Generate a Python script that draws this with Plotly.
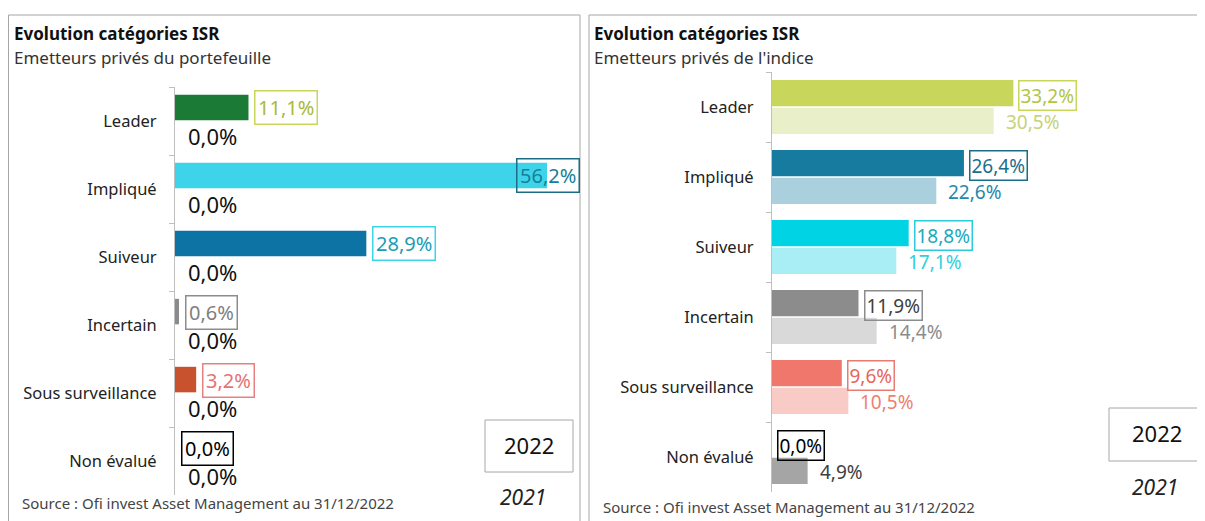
import plotly.graph_objects as go

# ---------------- data ----------------
categories = ["Leader", "Impliqué", "Suiveur", "Incertain", "Sous surveillance", "Non évalué"]
ptf_2022 = [11.1, 56.2, 28.9, 0.6, 3.2, 0.0]
ptf_2021 = [0.0, 0.0, 0.0, 0.0, 0.0, 0.0]
idx_2022 = [33.2, 26.4, 18.8, 11.9, 9.6, 0.0]
idx_2021 = [30.5, 22.6, 17.1, 14.4, 10.5, 4.9]
years = ["2022", "2021"]
title_main = "Evolution catégories ISR"
subtitle_left = "Emetteurs privés du portefeuille"
subtitle_right = "Emetteurs privés de l'indice"
source_text = "Source : Ofi invest Asset Management au 31/12/2022"

# ---------------- styles ----------------
OFF = 8                      # page body margin
W, H = 1205 - OFF, 521 - OFF  # figure size so it fits the window
FONT = "Noto Sans"

left_bar_22 = ["#1b7a36", "#3dd4ea", "#0d72a4", "#8a8a8a", "#c8522e", "#000000"]
left_bar_21 = ["#e9f0c9", "#aad0de", "#a9eef5", "#d9d9d9", "#f9cbc6", "#a5a5a5"]
left_txt_22 = ["#a9b93a", "#17809a", "#1a9db3", "#7f7f7f", "#e57373", "#000000"]
left_brd_22 = ["#c8d65a", "#1b6d87", "#3dd4ea", "#8c8c8c", "#e88080", "#000000"]

right_bar_22 = ["#c8d75b", "#167b9e", "#00d3e3", "#8c8c8c", "#f0776b", "#000000"]
right_bar_21 = ["#e9f0c9", "#aad0de", "#a9eef5", "#d9d9d9", "#f9cbc6", "#a5a5a5"]
right_txt_22 = ["#b3c444", "#1b6e8a", "#19aabb", "#404040", "#e8665b", "#000000"]
right_brd_22 = ["#c8d65a", "#1b6d87", "#2ccbdc", "#8c8c8c", "#e87b72", "#000000"]
right_txt_21 = ["#c6d37a", "#2687ad", "#2fd0e0", "#8c8c8c", "#ee7f72", "#404040"]


def px_x(p):
    return (p - OFF) / W


def px_y(p):
    return 1 - (p - OFF) / H


def fmt(v):
    return f"{v:.1f}%".replace(".", ",")


# plot areas (window pixels)
L_X0, L_X1, L_Y0, L_Y1 = 175, 580, 87, 495
R_X0, R_X1, R_Y0, R_Y1 = 772, 1205, 72, 492
L_SCALE = 6.62   # px per %
R_SCALE = 7.27
L_MAX = (L_X1 - L_X0) / L_SCALE
R_MAX = (R_X1 - R_X0) / R_SCALE

fig = go.Figure()

fig.add_trace(go.Bar(y=categories, x=ptf_2022, orientation="h", name=years[0],
                     marker=dict(color=left_bar_22, line=dict(width=0)),
                     xaxis="x", yaxis="y", hoverinfo="x+y"))
fig.add_trace(go.Bar(y=categories, x=ptf_2021, orientation="h", name=years[1],
                     marker=dict(color=left_bar_21, line=dict(width=0)),
                     xaxis="x", yaxis="y", hoverinfo="x+y"))
fig.add_trace(go.Bar(y=categories, x=idx_2022, orientation="h", name=years[0],
                     marker=dict(color=right_bar_22, line=dict(width=0)),
                     xaxis="x2", yaxis="y2", hoverinfo="x+y"))
fig.add_trace(go.Bar(y=categories, x=idx_2021, orientation="h", name=years[1],
                     marker=dict(color=right_bar_21, line=dict(width=0)),
                     xaxis="x2", yaxis="y2", hoverinfo="x+y"))

ann = []
# left labels
for i, c in enumerate(categories):
    v = ptf_2022[i]
    if v > 0.85 * L_MAX:
        ax, anc, xs = L_MAX, "right", 0
    else:
        ax, anc, xs = v, "left", 6
    ann.append(dict(xref="x", yref="y", x=ax, y=c, xanchor=anc, yanchor="middle",
                    xshift=xs, yshift=13, text=fmt(v), showarrow=False,
                    font=dict(family=FONT, size=20, color=left_txt_22[i]),
                    bordercolor=left_brd_22[i], borderwidth=1.5, borderpad=2.5,
                    bgcolor="rgba(255,255,255,0)"))
    v2 = ptf_2021[i]
    ann.append(dict(xref="x", yref="y", x=v2, y=c, xanchor="left", yanchor="middle",
                    xshift=11, yshift=-15, text=fmt(v2), showarrow=False,
                    font=dict(family=FONT, size=22, color="#111111")))
# right labels
for i, c in enumerate(categories):
    v = idx_2022[i]
    ann.append(dict(xref="x2", yref="y2", x=v, y=c, xanchor="left", yanchor="middle",
                    xshift=5, yshift=12, text=fmt(v), showarrow=False,
                    font=dict(family=FONT, size=19, color=right_txt_22[i]),
                    bordercolor=right_brd_22[i], borderwidth=1.5, borderpad=1,
                    bgcolor="rgba(255,255,255,0)"))
    v2 = idx_2021[i]
    ann.append(dict(xref="x2", yref="y2", x=v2, y=c, xanchor="left", yanchor="middle",
                    xshift=10, yshift=-15, text=fmt(v2), showarrow=False,
                    font=dict(family=FONT, size=19, color=right_txt_21[i])))

# titles / subtitles / sources
for x0, sub in ((14, subtitle_left), (594, subtitle_right)):
    ann.append(dict(xref="paper", yref="paper", x=px_x(x0 - 2), y=px_y(33), xanchor="left",
                    yanchor="middle", text=f"<b>{title_main}</b>", showarrow=False,
                    font=dict(family=FONT, size=17, color="#111111")))
    ann.append(dict(xref="paper", yref="paper", x=px_x(x0 - 2), y=px_y(57), xanchor="left",
                    yanchor="middle", text=sub, showarrow=False,
                    font=dict(family=FONT, size=17, color="#333333")))
ann.append(dict(xref="paper", yref="paper", x=px_x(20), y=px_y(503), xanchor="left",
                yanchor="middle", text=source_text, showarrow=False,
                font=dict(family=FONT, size=15, color="#444444")))
ann.append(dict(xref="paper", yref="paper", x=px_x(601), y=px_y(507), xanchor="left",
                yanchor="middle", text=source_text, showarrow=False,
                font=dict(family=FONT, size=15, color="#444444")))

# legend-like boxes
for (tx, ty, ix, iy) in ((529, 445, 523, 497), (1157, 433, 1155, 487)):
    ann.append(dict(xref="paper", yref="paper", x=px_x(tx), y=px_y(ty), xanchor="center",
                    yanchor="middle", text=years[0], showarrow=False,
                    font=dict(family=FONT, size=22, color="#111111")))
    ann.append(dict(xref="paper", yref="paper", x=px_x(ix), y=px_y(iy), xanchor="center",
                    yanchor="middle", text=f"<i>{years[1]}</i>", showarrow=False,
                    font=dict(family=FONT, size=21, color="#222222")))

shapes = [
    dict(type="rect", xref="paper", yref="paper", x0=px_x(8.5), x1=px_x(580),
         y0=px_y(540), y1=px_y(15), line=dict(color="#a6a6a6", width=1), layer="below"),
    dict(type="rect", xref="paper", yref="paper", x0=px_x(589), x1=px_x(1220),
         y0=px_y(540), y1=px_y(15), line=dict(color="#a6a6a6", width=1), layer="below"),
    dict(type="rect", xref="paper", yref="paper", x0=px_x(485), x1=px_x(573),
         y0=px_y(472), y1=px_y(420), line=dict(color="#a6a6a6", width=1)),
    dict(type="rect", xref="paper", yref="paper", x0=px_x(1109), x1=px_x(1220),
         y0=px_y(461), y1=px_y(408), line=dict(color="#a6a6a6", width=1)),
]

yaxis_common = dict(type="category", categoryorder="array", categoryarray=categories,
                    autorange="reversed", showline=True, linecolor="#bfbfbf", linewidth=1,
                    ticks="outside", ticklen=5, tickcolor="#bfbfbf", tickson="boundaries",
                    showgrid=False, zeroline=False, ticklabelstandoff=14,
                    tickfont=dict(family=FONT, size=16.5, color="#222222"))

fig.update_layout(
    width=W, height=H,
    margin=dict(l=0, r=0, t=0, b=0),
    paper_bgcolor="white", plot_bgcolor="rgba(0,0,0,0)",
    barmode="group", bargap=0.21, bargroupgap=0.05,
    showlegend=False,
    font=dict(family=FONT),
    xaxis=dict(domain=[px_x(L_X0), px_x(L_X1)], range=[0, L_MAX], visible=False,
               anchor="y"),
    yaxis=dict(domain=[px_y(L_Y1), px_y(L_Y0)], anchor="x", **yaxis_common),
    xaxis2=dict(domain=[px_x(R_X0), px_x(R_X1)], range=[0, R_MAX], visible=False,
                anchor="y2"),
    yaxis2=dict(domain=[px_y(R_Y1), px_y(R_Y0)], anchor="x2", **yaxis_common),
    annotations=ann,
    shapes=shapes,
)

fig.write_html("out.html")
